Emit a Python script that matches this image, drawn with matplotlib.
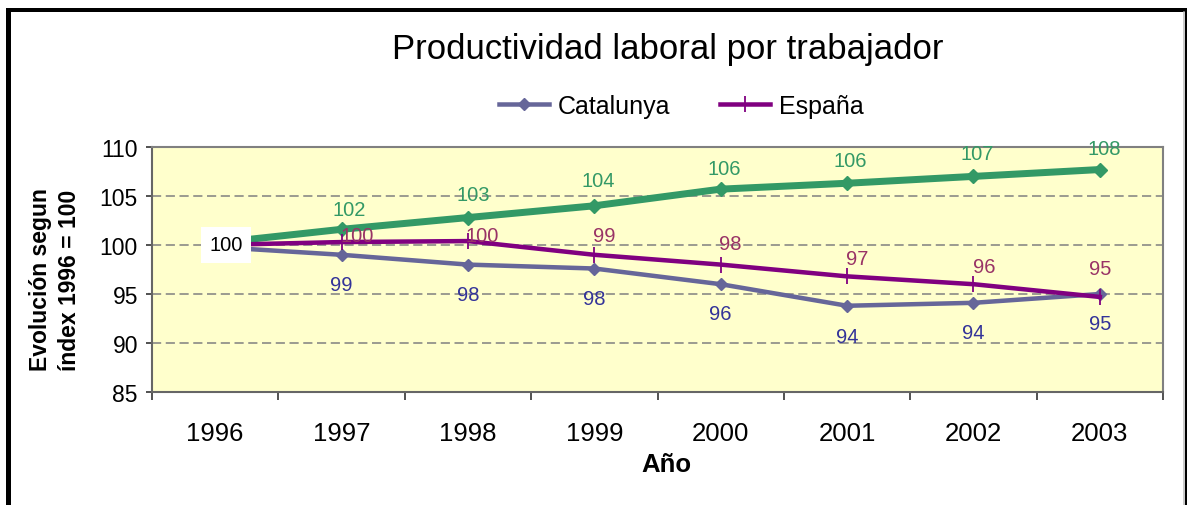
import matplotlib
matplotlib.use("Agg")
import matplotlib.pyplot as plt
from matplotlib.lines import Line2D
from matplotlib.ticker import FixedLocator, NullFormatter

plt.rcParams['font.family'] = ['Liberation Sans', 'DejaVu Sans']

# ---- data ----
years = ['1996', '1997', '1998', '1999', '2000', '2001', '2002', '2003']
green_vals = [100.2, 101.6, 102.8, 104.0, 105.7, 106.3, 107.0, 107.7]
green_labels = ['100', '102', '103', '104', '106', '106', '107', '108']
catalunya_vals = [99.8, 99.0, 98.0, 97.6, 96.0, 93.8, 94.1, 95.0]
catalunya_labels = ['100', '99', '98', '98', '96', '94', '94', '95']
espana_vals = [100.0, 100.3, 100.4, 99.0, 98.0, 96.8, 96.0, 94.7]
espana_labels = ['100', '100', '100', '99', '98', '97', '96', '95']
yticks = [85, 90, 95, 100, 105, 110]

W, H, DPI = 1187, 506, 100
fig = plt.figure(figsize=(W / DPI, H / DPI), dpi=DPI)
fig.patch.set_facecolor('white')

def px(v):
    return v * 72.0 / DPI  # pixels -> points

ax = fig.add_axes([152 / W, 1 - 393 / H, (1163 - 152) / W, (393 - 148) / H])
ax.set_facecolor('#FFFFCC')

x = list(range(len(years)))

ax.plot(x, green_vals, color='#339966', lw=px(7), marker='D', ms=7.5,
        mec='#339966', mfc='#339966', zorder=3, solid_capstyle='butt')
l_cat, = ax.plot(x, catalunya_vals, color='#666699', lw=px(4.5), marker='D', ms=6,
                 mec='#666699', mfc='#666699', zorder=4, label='Catalunya')
l_esp, = ax.plot(x, espana_vals, color='#800080', lw=px(4.5), marker='|', ms=11,
                 mew=1.3, mec='#800080', zorder=5, label='España')

# ---- data labels ----
LBL = 14.5
green_off = [None, (8, 20), (5, 23), (4, 25), (4, 21), (3, 23), (4, 23), (4, 21)]
cat_off = [None, (0, -30), (0, -30), (0, -30), (0, -29), (0, -31), (0, -30), (0, -30)]
esp_off = [None, (16, 7), (14, 6), (10, 19), (10, 21), (10, 18), (11, 18), (0, 28)]

for i in x:
    if green_off[i] is not None:
        ax.annotate(green_labels[i], (i, green_vals[i]), xytext=(px(green_off[i][0]), px(green_off[i][1])),
                    textcoords='offset points', ha='center', va='center', fontsize=LBL,
                    color='#339966', zorder=6)
    if cat_off[i] is not None:
        ax.annotate(catalunya_labels[i], (i, catalunya_vals[i]), xytext=(px(cat_off[i][0]), px(cat_off[i][1])),
                    textcoords='offset points', ha='center', va='center', fontsize=LBL,
                    color='#333399', zorder=6)
    if esp_off[i] is not None:
        ax.annotate(espana_labels[i], (i, espana_vals[i]), xytext=(px(esp_off[i][0]), px(esp_off[i][1])),
                    textcoords='offset points', ha='center', va='center', fontsize=LBL,
                    color='#993366', zorder=6)

# 1996 label in white box
ax.annotate(espana_labels[0], (0, espana_vals[0]), xytext=(px(11), 0), textcoords='offset points',
            ha='center', va='center', fontsize=LBL, color='black', zorder=7,
            bbox=dict(boxstyle='square,pad=0.4', fc='white', ec='none'))

# ---- axes styling ----
ax.set_xlim(-0.5, len(years) - 0.5)
ax.set_ylim(85, 110)
ax.set_yticks(yticks)
ax.set_yticklabels([str(v) for v in yticks], fontsize=16.5)
ax.set_xticks(x)
ax.set_xticklabels(years, fontsize=18.5)
ax.xaxis.set_minor_locator(FixedLocator([i - 0.5 for i in range(len(years) + 1)]))
ax.xaxis.set_minor_formatter(NullFormatter())
ax.tick_params(axis='x', which='major', length=0, pad=px(29))
ax.tick_params(axis='x', which='minor', length=px(8), width=1.2, color='#333333', direction='out')
ax.tick_params(axis='y', length=px(6), width=1.2, color='#333333', direction='out', pad=px(8))

for y in [90, 95, 100, 105]:
    ax.axhline(y, color='#808080', lw=1.1, ls=(0, (6, 3)), zorder=1)

for s in ['top', 'right']:
    ax.spines[s].set_color('#808080')
    ax.spines[s].set_linewidth(1.5)
for s in ['left', 'bottom']:
    ax.spines[s].set_color('#666666')
    ax.spines[s].set_linewidth(1.5)

# ---- text ----
fig.text(667.5 / W, 1 - 50 / H, 'Productividad laboral por trabajador', ha='center', va='center',
         fontsize=25, color='black')
fig.text(666 / W, 1 - 465 / H, 'Año', ha='center', va='center', fontsize=18.5, fontweight='bold')
fig.text(55 / W, 1 - 280 / H, 'Evolución segun\níndex 1996 = 100', ha='center', va='center',
         rotation=90, fontsize=16.5, fontweight='bold', linespacing=1.3)

leg = fig.legend(handles=[l_cat, l_esp], loc='center', bbox_to_anchor=(681 / W, 1 - 107 / H),
                 ncol=2, frameon=False, fontsize=18, handlelength=2.0, handletextpad=0.35,
                 columnspacing=2.0)

# ---- outer frame ----
fig.add_artist(Line2D([7.5 / W, 7.5 / W], [0, 1 - 11 / H], color='black', lw=px(5),
                      transform=fig.transFigure, solid_capstyle='projecting'))
fig.add_artist(Line2D([7.5 / W, 1185.5 / W], [1 - 11 / H, 1 - 11 / H], color='black', lw=px(4),
                      transform=fig.transFigure, solid_capstyle='projecting'))
fig.add_artist(Line2D([1186 / W, 1186 / W], [0, 1 - 11 / H], color='black', lw=px(2),
                      transform=fig.transFigure))
fig.add_artist(Line2D([1184 / W, 1184 / W], [0, 1 - 13 / H], color='#BBBBBB', lw=px(1.5),
                      transform=fig.transFigure))

fig.savefig('out.png', dpi=DPI, facecolor='white')
